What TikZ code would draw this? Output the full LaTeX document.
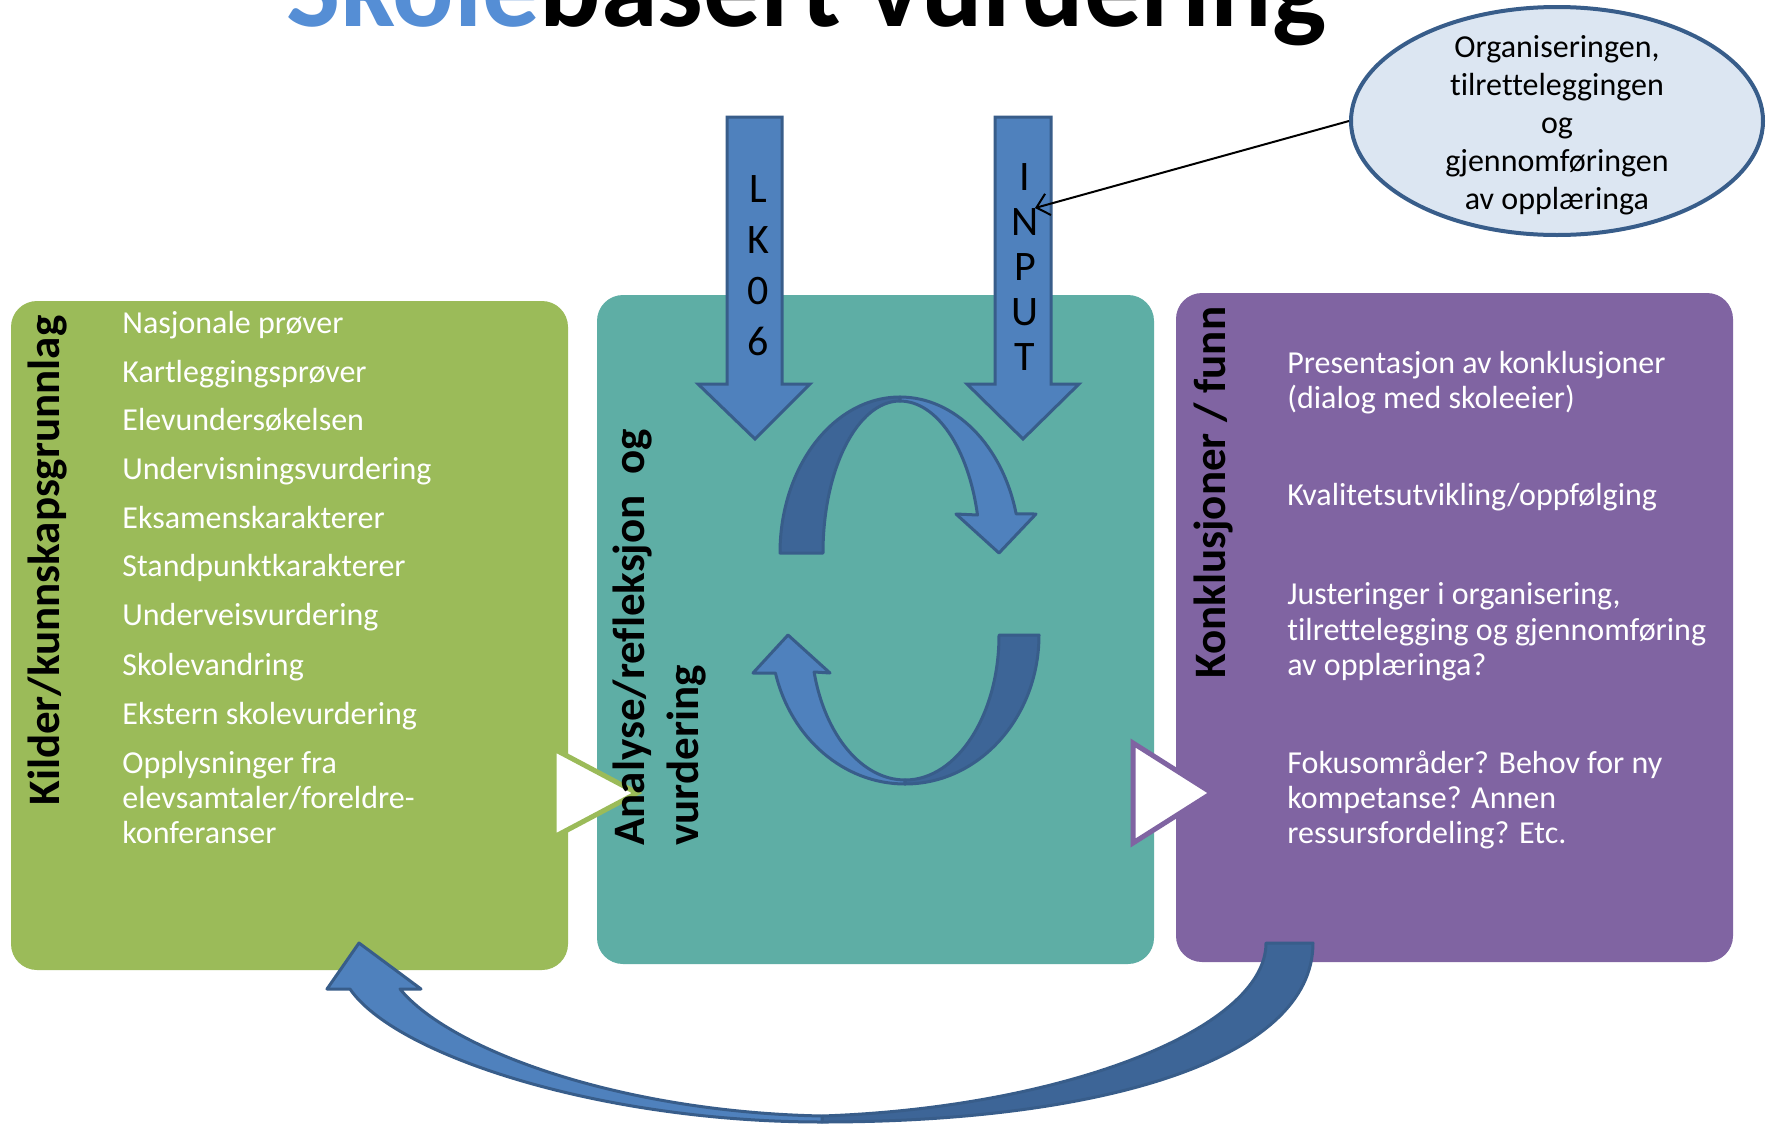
\documentclass[tikz,border=0pt]{standalone}
\usepackage{fontspec}
\setmainfont[Ligatures=NoCommon]{Carlito}
\usetikzlibrary{shapes.geometric,arrows.meta}
\definecolor{cgreen}{HTML}{9BBB59}
\definecolor{cteal}{HTML}{5EAEA5}
\definecolor{cpurple}{HTML}{8064A2}
\definecolor{alight}{HTML}{4F81BD}
\definecolor{adark}{HTML}{3D6597}
\definecolor{aline}{HTML}{385D8A}
\definecolor{ellfill}{HTML}{DCE6F2}
\definecolor{tblue}{HTML}{558ED5}
\begin{document}
\begin{tikzpicture}[x=0.5pt,y=-0.5pt,
  panel/.style={rounded corners=13pt},
  bodytxt/.style={anchor=base west, inner sep=0pt, text=white, font=\fontsize{16}{19}\selectfont},
  hdr/.style={anchor=base west, inner sep=0pt, rotate=90, font=\fontsize{22.5}{27}\selectfont\bfseries},
  blockarrow/.style={fill=alight, draw=aline, line width=1.5pt, line join=miter},
  darkband/.style={fill=adark, draw=aline, line width=1.5pt, line join=round},
  lightband/.style={fill=alight, draw=aline, line width=1.5pt, line join=round},
  tri/.style={fill=white, line width=2.5pt, line join=miter}
]
\useasboundingbox (0,0) rectangle (1774,1125);
\fill[white] (0,0) rectangle (1774,1125);

% title
\node (title) [anchor=base west, inner sep=0pt, font=\fontsize{57.3}{62}\selectfont\bfseries] at (286,26) {\textcolor{tblue}{Skole}basert vurdering};

% panels
\fill[panel, cgreen] (11,301) rectangle (568,970);
\fill[panel, cteal] (597,295) rectangle (1154,964);
\fill[panel, cpurple] (1176,293) rectangle (1733,962);

% triangles
\draw[tri, draw=cgreen] (554,749) -- (637,793) -- (554,837) -- cycle;
\draw[tri, draw=cpurple] (1133,743) -- (1212,793) -- (1133,843) -- cycle;

% down arrows
\draw[blockarrow] (727,117) -- (782,117) -- (782,384) -- (810,384) -- (755,439) -- (698,384) -- (727,384) -- cycle;
\draw[blockarrow] (995,117) -- (1051,117) -- (1051,384) -- (1079,384) -- (1023,439) -- (967,384) -- (995,384) -- cycle;
\node (lk) [inner sep=0pt, align=center, font=\fontsize{21}{25.5}\selectfont] at (758,266) {L\\K\\0\\6};
\node (inptxt) [inner sep=0pt, align=center, font=\fontsize{21}{22.5}\selectfont] at (1025,267) {I\\N\\P\\U\\T};

% circular arrows
\draw[darkband] (780,553) arc[start angle=180,end angle=270,x radius=120,y radius=156] -- (900,401) arc[start angle=270,end angle=180,x radius=77,y radius=152] -- cycle;
\draw[lightband] (900,397) arc[start angle=270,end angle=345.5,x radius=120,y radius=156] -- (1036,514) -- (999,553) -- (956,514) -- (977.5,515) arc[start angle=345.5,end angle=270,x radius=80,y radius=152] -- cycle;
\draw[darkband] (1039,635) arc[start angle=0,end angle=90,x radius=134,y radius=149] -- (905,780) arc[start angle=90,end angle=0,x radius=94,y radius=145] -- cycle;
\draw[lightband] (905,784) arc[start angle=90,end angle=165.2,x radius=134,y radius=149] -- (753,673) -- (788,635) -- (830,673) -- (814.1,672) arc[start angle=165.2,end angle=90,x radius=94,y radius=145] -- cycle;

% headers
\node (h1) [hdr] at (59,806) {Kilder/kunnskapsgrunnlag};
\node (h2a) [hdr] at (644,846) {Analyse/refleksjon\ \ og};
\node (h2b) [hdr] at (698,846) {vurdering};
\node (h3) [hdr] at (1225,679) {Konklusjoner / funn};

% green list
\node (g1) [bodytxt] at (122,333) {Nasjonale prøver};
\node (g2) [bodytxt] at (122,382) {Kartleggingsprøver};
\node (g3) [bodytxt] at (122,430) {Elevundersøkelsen};
\node (g4) [bodytxt] at (122,479) {Undervisningsvurdering};
\node (g5) [bodytxt] at (122,528) {Eksamenskarakterer};
\node (g6) [bodytxt] at (122,576) {Standpunktkarakterer};
\node (g7) [bodytxt] at (122,625) {Underveisvurdering};
\node (g8) [bodytxt] at (122,675) {Skolevandring};
\node (g9) [bodytxt] at (122,724) {Ekstern skolevurdering};
\node (g10a) [bodytxt] at (122,773) {Opplysninger fra};
\node (g10b) [bodytxt] at (122,808) {elevsamtaler/foreldre-};
\node (g10c) [bodytxt] at (122,843) {konferanser};

% purple list
\node (p1a) [bodytxt] at (1287,373) {Presentasjon av konklusjoner};
\node (p1b) [bodytxt] at (1287,408) {(dialog med skoleeier)};
\node (p2) [bodytxt] at (1287,505) {Kvalitetsutvikling/oppfølging};
\node (p3a) [bodytxt] at (1287,604) {Justeringer i organisering,};
\node (p3b) [bodytxt] at (1287,640) {tilrettelegging og gjennomføring};
\node (p3c) [bodytxt] at (1287,675) {av opplæringa?};
\node (p4a) [bodytxt] at (1287,773) {Fokusområder? Behov for ny};
\node (p4b) [bodytxt] at (1287,808) {kompetanse? Annen};
\node (p4c) [bodytxt] at (1287,843) {ressursfordeling? Etc.};

% ellipse and pointer
\node (ell) [ellipse, draw=aline, line width=2pt, fill=ellfill, minimum width=206pt, minimum height=114pt, inner sep=0pt] at (1557,121) {};
\node (elltxt) [inner sep=0pt, align=center, font=\fontsize{16}{19}\selectfont] at (1557,125) {Organiseringen,\\tilretteleggingen\\og\\gjennomføringen\\av opplæringa};
\coordinate (inp) at (1035,208);
\draw[line width=1pt, -{Straight Barb[length=6pt,width=11pt]}] (ell.west) -- (inp);

% bottom curved arrow
\draw[darkband] (1313,943) .. controls (1313,1060) and (1100,1122) .. (822,1122) -- (822,1116) .. controls (1060,1108) and (1266,1030) .. (1266,943) -- cycle;
\draw[lightband] (822,1122) .. controls (600,1122) and (395,1055) .. (350,989) -- (327,989) -- (359,943) -- (421,989) -- (400,989) .. controls (450,1050) and (620,1112) .. (822,1116) -- cycle;
\end{tikzpicture}
\end{document}
